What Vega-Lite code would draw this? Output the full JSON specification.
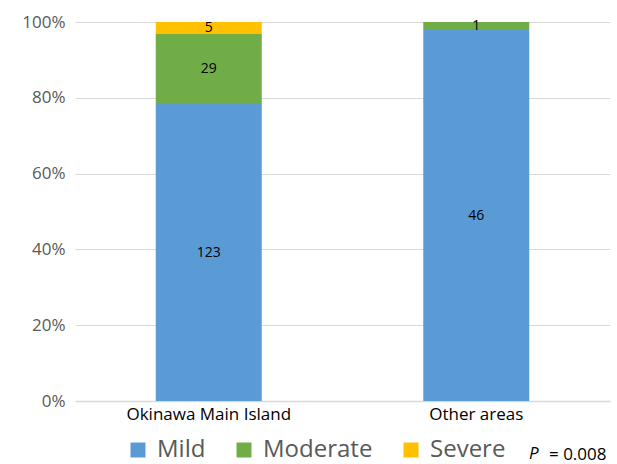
{
  "$schema": "https://vega.github.io/schema/vega-lite/v6.json",
  "autosize": "none",
  "width": 535,
  "height": 379,
  "padding": {"left": 75, "top": 22, "right": 7, "bottom": 63},
  "background": "white",
  "config": {
    "font": "Open Sans",
    "view": {"stroke": null}
  },
  "data": {
    "values": [
      {"area": "Okinawa Main Island", "severity": "Mild", "order": 1, "count": 123},
      {"area": "Okinawa Main Island", "severity": "Moderate", "order": 2, "count": 29},
      {"area": "Okinawa Main Island", "severity": "Severe", "order": 3, "count": 5},
      {"area": "Other areas", "severity": "Mild", "order": 1, "count": 46},
      {"area": "Other areas", "severity": "Moderate", "order": 2, "count": 1}
    ]
  },
  "transform": [
    {"stack": "count", "groupby": ["area"], "sort": [{"field": "order", "order": "ascending"}], "offset": "normalize", "as": ["y0", "y1"]},
    {"calculate": "(datum.y0 + datum.y1) / 2", "as": "ymid"}
  ],
  "encoding": {
    "x": {
      "field": "area",
      "type": "nominal",
      "scale": {"paddingInner": 0, "paddingOuter": 0},
      "axis": {
        "title": null,
        "labelAngle": 0,
        "labelFontSize": 17,
        "labelColor": "#000000",
        "labelPadding": 5,
        "ticks": false,
        "domainColor": "#d9d9d9",
        "domainWidth": 1.5
      }
    }
  },
  "layer": [
    {
      "mark": {"type": "bar", "size": 106},
      "encoding": {
        "y": {
          "field": "y1",
          "type": "quantitative",
          "scale": {"domain": [0, 1]},
          "axis": {
            "title": null,
            "format": ".0%",
            "values": [0, 0.2, 0.4, 0.6, 0.8, 1],
            "labelOverlap": false,
            "labelFontSize": 17,
            "labelColor": "#595959",
            "labelPadding": 10,
            "ticks": false,
            "domain": false,
            "gridColor": "#d9d9d9",
            "gridWidth": 1.2
          }
        },
        "y2": {"field": "y0"},
        "color": {
          "field": "severity",
          "type": "nominal",
          "sort": ["Mild", "Moderate", "Severe"],
          "scale": {"domain": ["Mild", "Moderate", "Severe"], "range": ["#5B9BD5", "#70AD47", "#FFC000"]},
          "legend": {
            "title": null,
            "orient": "none",
            "legendX": 51,
            "legendY": 416,
            "direction": "horizontal",
            "symbolType": "square",
            "symbolSize": 225,
            "symbolStrokeWidth": 0,
            "labelFontSize": 24,
            "labelColor": "#595959",
            "labelLimit": 300,
            "columnPadding": 26,
            "labelOffset": 7
          }
        },
        "opacity": {
          "datum": "= 0.008",
          "type": "nominal",
          "scale": {"range": [1]},
          "legend": {
            "title": "P",
            "titleFontStyle": "italic",
            "titleFontWeight": "normal",
            "titleFontSize": 17,
            "titleColor": "#000000",
            "titleOrient": "left",
            "titlePadding": 0,
            "orient": "none",
            "legendX": 454,
            "legendY": 424,
            "symbolSize": 0,
            "symbolOpacity": 0,
            "symbolStrokeWidth": 0,
            "labelOffset": -7,
            "labelFontSize": 17,
            "labelColor": "#000000"
          }
        }
      }
    },
    {
      "mark": {"type": "text", "fontSize": 14, "color": "#000000"},
      "encoding": {
        "y": {"field": "ymid", "type": "quantitative"},
        "text": {"field": "count", "type": "quantitative"}
      }
    }
  ]
}
